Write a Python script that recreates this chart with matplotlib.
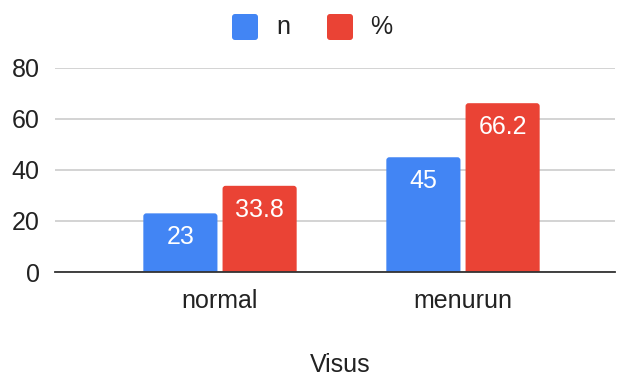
import matplotlib
matplotlib.use("Agg")
import matplotlib.pyplot as plt
import numpy as np
from matplotlib.patches import FancyBboxPatch

categories = ["normal", "menurun"]
series_names = ["n", "%"]
n_values = [23, 45]
pct_values = [33.8, 66.2]
pct_labels = ["33.8", "66.2"]
n_labels = ["23", "45"]
yticks = [0, 20, 40, 60, 80]

plt.rcParams['font.family'] = ['Liberation Sans', 'DejaVu Sans']

W, H = 617, 378
fig = plt.figure(figsize=(W/100, H/100), dpi=100)
ax = fig.add_axes([55/W, 1-272/H, (615-55)/W, (272-68)/H])

blue = "#4285F4"
red = "#EA4335"
txt = "#222222"
FS = 18
x = np.arange(len(categories))
width = 0.305
off = 0.163

xpx = 1/243.0          # data x units per pixel
ypx = 80/204.0         # data y units per pixel
r = 3 * xpx

def rbar(xc, h, color):
    p = FancyBboxPatch((xc - width/2, -3*ypx), width, h + 3*ypx,
                       boxstyle=f"round,pad=0,rounding_size={r}",
                       mutation_aspect=ypx/xpx, facecolor=color,
                       edgecolor="none", zorder=3)
    ax.add_patch(p)

for i in range(len(categories)):
    rbar(x[i]-off, n_values[i], blue)
    rbar(x[i]+off, pct_values[i], red)
    ax.text(x[i]-off, n_values[i]-9.3, n_labels[i], color="white", ha="center", va="center", fontsize=FS, zorder=4)
    ax.text(x[i]+off, pct_values[i]-9.3, pct_labels[i], color="white", ha="center", va="center", fontsize=FS, zorder=4)

ax.set_xlim((55-220)/243, (615-220)/243)
ax.set_ylim(0, 80)
ax.set_yticks(yticks)
ax.set_xticks(x)
ax.set_xticklabels(categories)
ax.tick_params(axis='both', length=0, labelsize=FS, colors=txt)
ax.tick_params(axis='y', pad=11)
ax.tick_params(axis='x', pad=12)
ax.grid(axis='y', color="#cccccc", linewidth=1.2, zorder=0)
for s in ["top", "right", "left"]:
    ax.spines[s].set_visible(False)
ax.spines["bottom"].set_color("#333333")
ax.spines["bottom"].set_linewidth(1.3)
ax.spines["bottom"].set_zorder(5)

fig.text(340/W, 1-365/H, "Visus", fontsize=FS, color=txt, ha="center", va="center")

# legend
def leg_square(x0, color):
    p = FancyBboxPatch((x0/W, 1-40/H), 26/W, 26/H,
                       boxstyle=f"round,pad=0,rounding_size={3/W}",
                       mutation_aspect=W/H, facecolor=color, edgecolor="none",
                       transform=fig.transFigure)
    fig.patches.append(p)

leg_square(232, blue)
fig.text(276/W, 1-27/H, series_names[0], fontsize=FS, color=txt, ha="left", va="center")
leg_square(327, red)
fig.text(370/W, 1-27/H, series_names[1], fontsize=FS, color=txt, ha="left", va="center")

fig.savefig("out.png", dpi=100)
